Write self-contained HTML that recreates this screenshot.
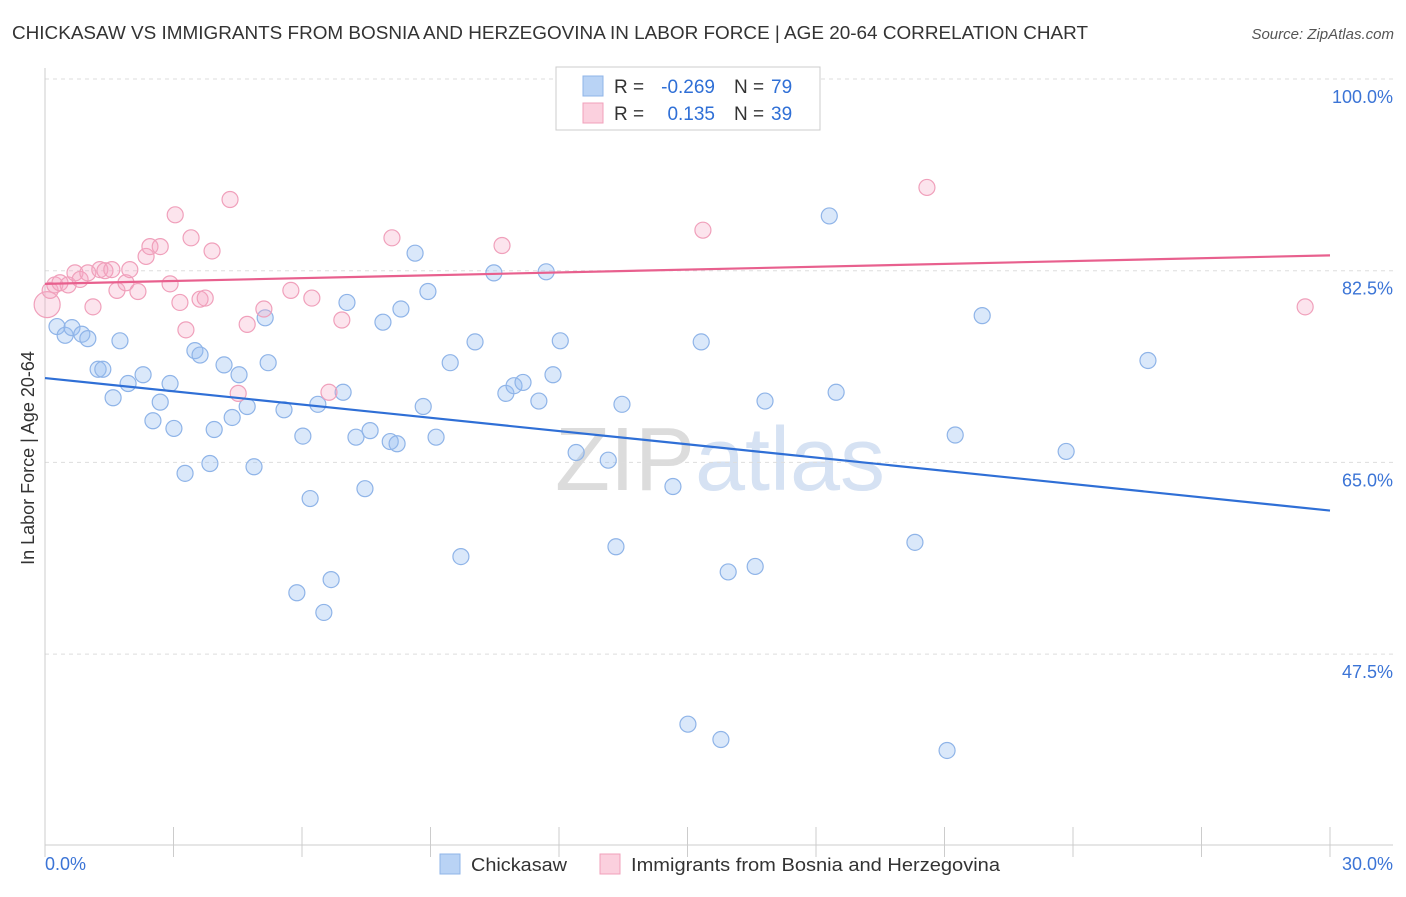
<!DOCTYPE html>
<html><head><meta charset="utf-8"><style>
body{margin:0;background:#fff;font-family:"Liberation Sans",sans-serif;}
svg text{font-family:"Liberation Sans",sans-serif;}
</style></head><body>
<svg id="chart" width="1406" height="892" xmlns="http://www.w3.org/2000/svg">
<text x="12" y="39" font-size="18" fill="#333" textLength="1076" lengthAdjust="spacingAndGlyphs">CHICKASAW VS IMMIGRANTS FROM BOSNIA AND HERZEGOVINA IN LABOR FORCE | AGE 20-64 CORRELATION CHART</text>
<text x="1394" y="39" font-size="15" fill="#555" text-anchor="end" font-style="italic">Source: ZipAtlas.com</text>
<text transform="translate(34,458) rotate(-90)" font-size="18" fill="#333" text-anchor="middle">In Labor Force | Age 20-64</text>
<text x="720" y="490" font-size="90" fill="#e4e4e4" text-anchor="middle" font-family="Liberation Serif"><tspan fill="#dcdcdc">ZIP</tspan><tspan fill="#d6e2f3" font-family="Liberation Sans">atlas</tspan></text>
<g id="grid"></g><g id="axes"></g><g id="pts"></g><g id="lines"></g>
<g>
<rect x="556" y="67" width="264" height="63" fill="#fff" stroke="#ccc"/>
<rect x="583" y="76" width="20" height="20" fill="#b9d3f5" stroke="#8fb4e8"/>
<text x="614" y="93" font-size="19" fill="#333">R =</text>
<text x="715" y="93" font-size="19" fill="#2f6fd6" text-anchor="end">-0.269</text>
<text x="734" y="93" font-size="19" fill="#333">N =</text>
<text x="771" y="93" font-size="19" fill="#2f6fd6">79</text>
<rect x="583" y="103" width="20" height="20" fill="#fbd0de" stroke="#f0a0bb"/>
<text x="614" y="120" font-size="19" fill="#333">R =</text>
<text x="715" y="120" font-size="19" fill="#2f6fd6" text-anchor="end">0.135</text>
<text x="734" y="120" font-size="19" fill="#333">N =</text>
<text x="771" y="120" font-size="19" fill="#2f6fd6">39</text>
</g>
<g>
<rect x="440" y="854" width="20" height="20" fill="#b9d3f5" stroke="#8fb4e8"/>
<text x="471" y="871" font-size="18" fill="#333" textLength="96" lengthAdjust="spacingAndGlyphs">Chickasaw</text>
<rect x="600" y="854" width="20" height="20" fill="#fbd0de" stroke="#f0a0bb"/>
<text x="631" y="871" font-size="18" fill="#333" textLength="369" lengthAdjust="spacingAndGlyphs">Immigrants from Bosnia and Herzegovina</text>
</g>
</svg>
<script>
const yTicks=[100,82.5,65,47.5];
const yTickLabels=["100.0%","82.5%","65.0%","47.5%"];
const xEndLabels=["0.0%","30.0%"];
const blueX=[0.28,0.47,0.63,0.86,1.00,1.75,1.24,1.35,1.59,1.94,2.29,2.52,2.69,2.92,3.01,3.27,3.50,3.62,3.85,3.95,4.18,4.37,4.53,4.72,4.88,5.14,5.21,5.58,5.88,6.02,6.19,6.37,6.51,6.68,6.96,7.05,7.26,7.47,7.59,7.89,8.06,8.22,8.31,8.64,8.83,8.94,9.13,9.46,9.71,10.04,10.48,10.76,10.95,11.16,11.53,11.70,11.86,12.03,12.40,13.15,13.33,13.47,14.66,15.01,15.32,15.78,15.95,16.58,16.81,18.31,18.47,20.31,21.06,21.25,21.88,23.84,25.75];
const blueY=[77.4,76.6,77.3,76.7,76.3,76.1,73.5,73.5,70.9,72.2,73.0,68.8,70.5,72.2,68.1,64.0,75.2,74.8,64.9,68.0,73.9,69.1,73.0,70.1,64.6,78.2,74.1,69.8,53.1,67.4,61.7,70.3,51.3,54.3,71.4,79.6,67.3,62.6,67.9,77.8,66.9,66.7,79.0,84.1,70.1,80.6,67.3,74.1,56.4,76.0,82.3,71.3,72.0,72.3,70.6,82.4,73.0,76.1,65.9,65.2,57.3,70.3,62.8,41.1,76.0,39.7,55.0,55.5,70.6,87.5,71.4,57.7,38.7,67.5,78.4,66.0,74.3];
const pinkX=[0.05,0.12,0.23,0.35,0.54,0.70,0.82,1.00,1.12,1.28,1.40,1.56,1.68,1.89,1.98,2.17,2.36,2.45,2.69,2.92,3.04,3.15,3.29,3.41,3.62,3.74,3.90,4.32,4.51,4.72,5.11,5.74,6.23,6.93,6.63,8.10,10.67,15.36,20.59,29.42];
const pinkY=[79.4,80.7,81.2,81.4,81.2,82.3,81.7,82.3,79.2,82.6,82.5,82.6,80.7,81.4,82.6,80.6,83.8,84.7,84.7,81.3,87.6,79.6,77.1,85.5,79.9,80.0,84.3,89.0,71.3,77.6,79.0,80.7,80.0,78.0,71.4,85.5,84.8,86.2,90.1,79.2];
const blueTrend=[72.7,60.6];
const pinkTrend=[81.3,83.9];
const NS="http://www.w3.org/2000/svg";
const X0=45,X1=1330,Y100=79,PXPER=10.954;
function sx(v){return X0+(v/30)*(X1-X0);}
function sy(v){return Y100+(100-v)*PXPER;}
function mk(tag,attrs,parent){const e=document.createElementNS(NS,tag);for(const k in attrs)e.setAttribute(k,attrs[k]);parent.appendChild(e);return e;}
const grid=document.getElementById('grid'),axes=document.getElementById('axes'),pts=document.getElementById('pts'),lines=document.getElementById('lines');
yTicks.forEach((t,i)=>{
 const l=mk('line',{x1:X0,x2:1393,y1:sy(t),y2:sy(t),stroke:'#ddd','stroke-dasharray':'4,4'},grid);
 
 
 const tx=mk('text',{x:1393,y:sy(t)+24,'font-size':18,fill:'#3b74d6','text-anchor':'end'},axes);
 tx.textContent=yTickLabels[i];
 
 
});
const ya=mk('line',{x1:X0,x2:X0,y1:68,y2:845,stroke:'#ccc'},axes);


const xa=mk('line',{x1:X0,x2:1393,y1:845,y2:845,stroke:'#ccc'},axes);


for(let i=0;i<=10;i++){
 const t=mk('line',{x1:sx(i*3),x2:sx(i*3),y1:827,y2:857,stroke:'#ccc'},axes);
 
 
}
[[0,'start',45],[30,'end',1393]].forEach((d,i)=>{
 const tx=mk('text',{x:d[2],y:870,'font-size':18,fill:'#3b74d6','text-anchor':d[1]},axes);
 tx.textContent=xEndLabels[i];
 
 
});
blueX.forEach((x,i)=>{
 const c=mk('circle',{cx:sx(x),cy:sy(blueY[i]),r:8,fill:'rgba(150,188,240,0.35)',stroke:'#8fb4e8','stroke-width':1.2},pts);
 
 
});
pinkX.forEach((x,i)=>{
 const c=mk('circle',{cx:sx(x),cy:sy(pinkY[i]),r:i===0?13:8,fill:'rgba(245,165,195,0.3)',stroke:'#f0a0bb','stroke-width':1.2},pts);
 
 
});
const bl=mk('line',{x1:sx(0),x2:sx(30),y1:sy(blueTrend[0]),y2:sy(blueTrend[1]),stroke:'#2f6fd6','stroke-width':2.2},lines);


const pl=mk('line',{x1:sx(0),x2:sx(30),y1:sy(pinkTrend[0]),y2:sy(pinkTrend[1]),stroke:'#e8608e','stroke-width':2.2},lines);


</script>
</body></html>
